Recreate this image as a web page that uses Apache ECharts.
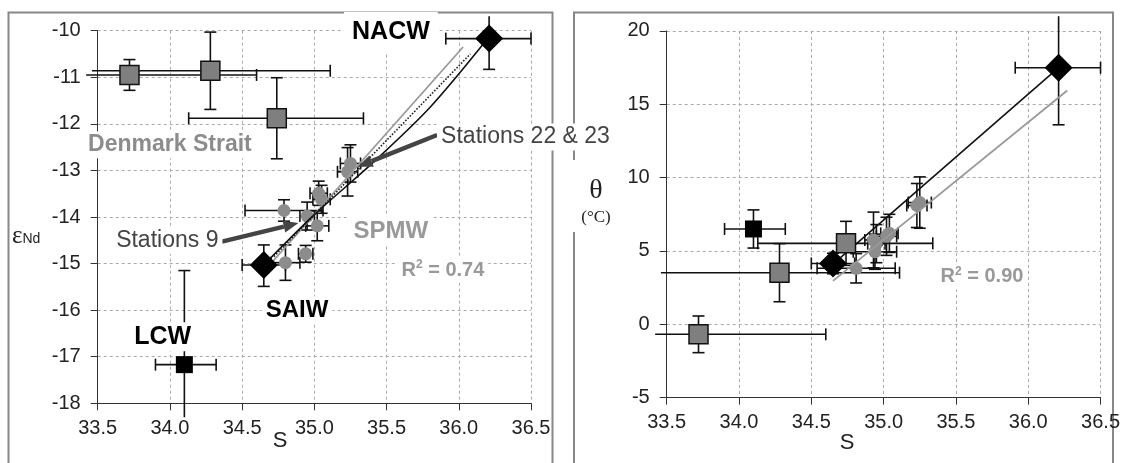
<!DOCTYPE html>
<html>
<head>
<meta charset="utf-8">
<script src="https://cdn.jsdelivr.net/npm/echarts@6/dist/echarts.min.js"></script>
<style>
  html, body { margin: 0; background: #fff; }
  #chart { width: 1123px; height: 463px; }
</style>
</head>
<body>
<div id="chart"></div>
<script>
// Denmark Strait samples (grey squares)
const dsS = [33.72, 34.28, 34.74];
const dsSLo = [33.42, 33.46, 34.13];
const dsSHi = [34.60, 35.11, 35.34];
const dsEps = [-10.95, -10.86, -11.88];
const dsEpsErr = [0.33, 0.83, 0.87];
const dsTheta = [-0.68, 3.52, 5.52];
const dsThetaErr = [1.25, 1.98, 1.5];

// end members: NACW, SAIW (diamonds), LCW (black square)
const nacw = { s: 36.21, sLo: 35.91, sHi: 36.5, eps: -10.17, epsLo: -10.83, epsHi: -9.69, theta: 17.49, thetaLo: 13.6, thetaHi: 21.0 };
const saiw = { s: 34.65, sLo: 34.5, sHi: 34.8, eps: -15.03, epsLo: -15.49, epsHi: -14.6, theta: 4.15, thetaLo: 3.45, thetaHi: 4.85 };
const lcw = { s: 34.1, sLo: 33.9, sHi: 34.32, eps: -17.17, epsLo: -18.3, epsHi: -15.15, theta: 6.5, thetaLo: 5.2, thetaHi: 7.8 };

// stations (grey circles), left panel
const stS = [35.25, 35.23, 35.03, 35.05, 34.79, 34.95, 35.02, 34.94, 34.80];
const stSErr = [0.07, 0.07, 0.06, 0.06, 0.27, 0.05, 0.08, 0.05, 0.1];
const stEps = [-12.85, -13.03, -13.49, -13.62, -13.86, -13.98, -14.19, -14.79, -14.98];
const stEpsErr = [0.4, 0.52, 0.26, 0.3, 0.23, 0.3, 0.32, 0.18, 0.38];

// stations, right panel
const rsS = [35.25, 35.23, 35.04, 35.02, 34.93, 34.95, 34.94, 34.81];
const rsSErr = [0.08, 0.07, 0.06, 0.07, 0.06, 0.06, 0.15, 0.27];
const rsTheta = [8.3, 8.1, 6.2, 6.0, 5.75, 5.5, 4.95, 3.82];
const rsThetaErr = [1.75, 1.5, 1.3, 1.3, 1.9, 1.3, 1.2, 1.0];

// trend / mixing lines
const grayLS = [34.67, 36.03];
const grayLEps = [-15.1, -10.35];
const mixLS = [34.65, 35.0, 35.4, 35.8, 36.2];
const mixLEps = [-15.03, -13.95, -12.85, -11.65, -10.17];
const dotLS = [34.72, 36.08];
const dotLEps = [-14.85, -10.5];
const blackRS = [34.65, 36.21];
const blackRTheta = [4.1, 17.49];
const grayRS = [34.65, 36.27];
const grayRTheta = [2.96, 15.94];

const sTicks = [33.5, 36.5, 0.5];
const epsTicks = [-18, -10, 1];
const thetaTicks = [-5, 20, 5];

const font = '"Liberation Sans", Arial, sans-serif';
const serif = '"Liberation Serif", "Times New Roman", serif';

const zip = (xs, ys) => xs.map((x, i) => [x, ys[i]]);

let chart = echarts.init(document.getElementById("chart"));

function xAxisFor(gridIndex) {
  return {
    type: "value",
    gridIndex: gridIndex,
    min: sTicks[0],
    max: sTicks[1],
    interval: sTicks[2],
    axisLine: { onZero: false, lineStyle: { color: "#333", width: 1 } },
    axisTick: { show: true, length: 7, lineStyle: { color: "#333" } },
    axisLabel: { margin: 15, fontSize: 20, color: "#222", fontFamily: font, formatter: (v) => v.toFixed(1) },
    splitLine: { show: true, lineStyle: { color: "#aaa", type: [3, 3], width: 1 } },
  };
}

function yAxisFor(gridIndex, ticks) {
  return {
    type: "value",
    gridIndex: gridIndex,
    min: ticks[0],
    max: ticks[1],
    interval: ticks[2],
    axisLine: { onZero: false, lineStyle: { color: "#333", width: 1 } },
    axisTick: { show: true, length: 7, lineStyle: { color: "#333" } },
    axisLabel: { margin: 17, fontSize: 20, color: "#222", fontFamily: font },
    splitLine: { show: true, lineStyle: { color: "#aaa", type: [3, 3], width: 1 } },
  };
}

// error bars: rows are [x, y, xLo, xHi, yLo, yHi]
function errSeries(rows, gi, yTicks, cap) {
  return {
    type: "custom",
    xAxisIndex: gi,
    yAxisIndex: gi,
    z: 2,
    silent: true,
    clip: false,
    data: rows,
    renderItem: (params, api) => {
      const x = api.value(0), y = api.value(1);
      const xl = api.value(2), xh = api.value(3), yl = api.value(4), yh = api.value(5);
      const a = api.coord([xl, y]), b = api.coord([xh, y]);
      const c = api.coord([x, yl]), d = api.coord([x, yh]);
      const st = { stroke: "#111", lineWidth: 1.6 };
      const kids = [
        { type: "line", shape: { x1: a[0], y1: a[1], x2: b[0], y2: b[1] }, style: st },
        { type: "line", shape: { x1: c[0], y1: c[1], x2: d[0], y2: d[1] }, style: st },
      ];
      // no cap where the bar runs past the axis range
      const inX = (v) => v >= sTicks[0] - 1e-6 && v <= sTicks[1] + 1e-6;
      const inY = (v) => v >= yTicks[0] - 1e-6 && v <= yTicks[1] + 1e-6;
      if (inX(xl)) kids.push({ type: "line", shape: { x1: a[0], y1: a[1] - cap, x2: a[0], y2: a[1] + cap }, style: st });
      if (inX(xh)) kids.push({ type: "line", shape: { x1: b[0], y1: b[1] - cap, x2: b[0], y2: b[1] + cap }, style: st });
      if (inY(yl)) kids.push({ type: "line", shape: { x1: c[0] - cap, y1: c[1], x2: c[0] + cap, y2: c[1] }, style: st });
      if (inY(yh)) kids.push({ type: "line", shape: { x1: d[0] - cap, y1: d[1], x2: d[0] + cap, y2: d[1] }, style: st });
      return { type: "group", children: kids };
    },
  };
}

function arrowSeries(rows, gi) {
  return {
    type: "custom",
    xAxisIndex: gi,
    yAxisIndex: gi,
    z: 6,
    silent: true,
    clip: false,
    data: rows,
    renderItem: (params, api) => {
      const p0 = api.coord([api.value(0), api.value(1)]);
      const p1 = api.coord([api.value(2), api.value(3)]);
      const dx = p1[0] - p0[0], dy = p1[1] - p0[1];
      const len = Math.sqrt(dx * dx + dy * dy);
      const ux = dx / len, uy = dy / len;
      const head = 15, half = 6;
      const bx = p1[0] - ux * head, by = p1[1] - uy * head;
      return {
        type: "group",
        children: [
          { type: "line", shape: { x1: p0[0], y1: p0[1], x2: bx, y2: by }, style: { stroke: "#444", lineWidth: 4.5 } },
          {
            type: "polygon",
            shape: { points: [[p1[0], p1[1]], [bx - uy * half, by + ux * half], [bx + uy * half, by - ux * half]] },
            style: { fill: "#444" },
          },
        ],
      };
    },
  };
}

function noteSeries(list, gi) {
  return {
    type: "custom",
    xAxisIndex: gi,
    yAxisIndex: gi,
    z: 7,
    silent: true,
    clip: false,
    data: list.map((n) => n.at),
    renderItem: (params, api) => {
      const n = list[params.dataIndex];
      const p = api.coord([api.value(0), api.value(1)]);
      const style = {
        text: n.text,
        fill: n.color,
        font: (n.bold ? "bold " : "") + n.size + "px " + font,
        align: n.align || "center",
        verticalAlign: "middle",
        backgroundColor: "#fff",
        padding: n.pad || [2, 4],
      };
      if (n.rich) style.rich = n.rich;
      return { type: "text", x: p[0], y: p[1], style: style };
    },
  };
}

const r2Rich = {
  r: { fontFamily: font, fontWeight: "bold", fontSize: 20, fill: "#999", color: "#999" },
  sup: { fontFamily: font, fontWeight: "bold", fontSize: 12, fill: "#999", color: "#999", verticalAlign: "top", padding: [0, 0, 10, 0] },
};

const notesLeft = [
  { text: "NACW", at: [35.53, -10.04], size: 25, bold: true, color: "#000", pad: [12, 8, 4, 8] },
  { text: "Denmark Strait", at: [34.0, -12.45], size: 23, bold: true, color: "#8c8c8c" },
  { text: "Stations 22 & 23", at: [35.85, -12.28], size: 23, color: "#444", align: "left" },
  { text: "Stations 9", at: [33.6, -14.5], size: 23, color: "#444", align: "left" },
  { text: "SPMW", at: [35.53, -14.3], size: 24, bold: true, color: "#999" },
  { text: "{r|R}{sup|2}{r| = 0.74}", at: [35.89, -15.14], size: 20, bold: true, color: "#999", rich: r2Rich },
  { text: "SAIW", at: [34.88, -16.0], size: 24, bold: true, color: "#000" },
  { text: "LCW", at: [33.95, -16.57], size: 25, bold: true, color: "#000" },
];
const notesRight = [
  { text: "{r|R}{sup|2}{r| = 0.90}", at: [35.68, 3.25], size: 20, bold: true, color: "#999", rich: r2Rich },
];

const member = (m, yKey) => [m.s, m[yKey]];
const memberErr = (m, yKey) => [m.s, m[yKey], m.sLo, m.sHi, m[yKey + "Lo"], m[yKey + "Hi"]];

const errLeft = []
  .concat(dsS.map((s, i) => [s, dsEps[i], dsSLo[i], dsSHi[i], dsEps[i] - dsEpsErr[i], dsEps[i] + dsEpsErr[i]]))
  .concat(stS.map((s, i) => [s, stEps[i], s - stSErr[i], s + stSErr[i], stEps[i] - stEpsErr[i], stEps[i] + stEpsErr[i]]))
  .concat([memberErr(nacw, "eps"), memberErr(saiw, "eps"), memberErr(lcw, "eps")]);
const errRight = []
  .concat(dsS.map((s, i) => [s, dsTheta[i], dsSLo[i], dsSHi[i], dsTheta[i] - dsThetaErr[i], dsTheta[i] + dsThetaErr[i]]))
  .concat(rsS.map((s, i) => [s, rsTheta[i], s - rsSErr[i], s + rsSErr[i], rsTheta[i] - rsThetaErr[i], rsTheta[i] + rsThetaErr[i]]))
  .concat([memberErr(nacw, "theta"), memberErr(saiw, "theta"), memberErr(lcw, "theta")]);

function panelSeries(gi, opts) {
  return [
    errSeries(opts.err, gi, opts.yTicks, 6),
    { type: "scatter", xAxisIndex: gi, yAxisIndex: gi, z: 3, symbol: "circle", symbolSize: 13,
      itemStyle: { color: "#8c8c8c", opacity: 1 }, data: opts.circles },
    ...opts.lines.map((l) => ({
      type: "line", xAxisIndex: gi, yAxisIndex: gi, z: 4, showSymbol: false, smooth: l.smooth || false,
      lineStyle: { color: l.color, width: l.width, type: l.type || "solid" }, data: l.data,
    })),
    { type: "scatter", xAxisIndex: gi, yAxisIndex: gi, z: 5, symbol: "rect", symbolSize: 19,
      itemStyle: { color: "#7f7f7f", borderColor: "#111", borderWidth: 1.5, opacity: 1 }, data: opts.squares },
    { type: "scatter", xAxisIndex: gi, yAxisIndex: gi, z: 5, symbol: "rect", symbolSize: 17,
      itemStyle: { color: "#000", opacity: 1 }, data: opts.black },
    { type: "scatter", xAxisIndex: gi, yAxisIndex: gi, z: 5, symbol: "diamond", symbolSize: 28,
      itemStyle: { color: "#000", opacity: 1 }, data: opts.diamonds },
  ];
}

let option = {
  animation: false,
  backgroundColor: "#fff",
  grid: [
    { left: 97.7, top: 30.7, width: 433.3, height: 372.6 },
    { left: 666.7, top: 30.9, width: 435, height: 366.8 },
  ],
  xAxis: [xAxisFor(0), xAxisFor(1)],
  yAxis: [yAxisFor(0, epsTicks), yAxisFor(1, thetaTicks)],
  graphic: [
    { type: "rect", z: 0, shape: { x: 8.5, y: 12.5, width: 544, height: 480 }, style: { fill: null, stroke: "#888", lineWidth: 2 } },
    { type: "rect", z: 0, shape: { x: 574, y: 12.5, width: 539, height: 480 }, style: { fill: null, stroke: "#888", lineWidth: 2 } },
    { type: "text", z: 10, x: 12, y: 236, style: { text: "{e|ε}{s|Nd}", verticalAlign: "middle",
        rich: { e: { fontFamily: serif, fontSize: 25, fill: "#222" }, s: { fontFamily: font, fontSize: 14, fill: "#222", padding: [6, 0, 0, 0] } } } },
    { type: "rect", z: 9, shape: { x: 568, y: 160, width: 50, height: 72 }, style: { fill: "#fff" } },
    { type: "text", z: 10, x: 596, y: 191, style: { text: "θ", font: "28px " + serif, fill: "#222", align: "center", verticalAlign: "middle" } },
    { type: "text", z: 10, x: 596, y: 218, style: { text: "(°C)", font: "17px " + serif, fill: "#222", align: "center", verticalAlign: "middle" } },
    { type: "text", z: 10, x: 280, y: 441, style: { text: "S", font: "22px " + font, fill: "#222", align: "center", verticalAlign: "middle" } },
    { type: "text", z: 10, x: 847, y: 443, style: { text: "S", font: "22px " + font, fill: "#222", align: "center", verticalAlign: "middle" } },
  ],
  series: [
    ...panelSeries(0, {
      err: errLeft,
      yTicks: epsTicks,
      circles: zip(stS, stEps),
      lines: [
        { data: zip(grayLS, grayLEps), color: "#999", width: 1.8 },
        { data: zip(dotLS, dotLEps), color: "#222", width: 1.6, type: "dotted" },
        { data: zip(mixLS, mixLEps), color: "#111", width: 1.6, smooth: 0.3 },
      ],
      squares: zip(dsS, dsEps),
      black: [member(lcw, "eps")],
      diamonds: [member(nacw, "eps"), member(saiw, "eps")],
    }),
    ...panelSeries(1, {
      err: errRight,
      yTicks: thetaTicks,
      circles: zip(rsS, rsTheta),
      lines: [
        { data: zip(grayRS, grayRTheta), color: "#999", width: 1.8 },
        { data: zip(blackRS, blackRTheta), color: "#111", width: 1.6 },
      ],
      squares: zip(dsS, dsTheta),
      black: [member(lcw, "theta")],
      diamonds: [member(nacw, "theta"), member(saiw, "theta")],
    }),
    arrowSeries([[35.85, -12.24, 35.3, -12.92], [34.36, -14.53, 34.89, -14.13]], 0),
    noteSeries(notesLeft, 0),
    noteSeries(notesRight, 1),
  ],
};

chart.setOption(option);
</script>
</body>
</html>
